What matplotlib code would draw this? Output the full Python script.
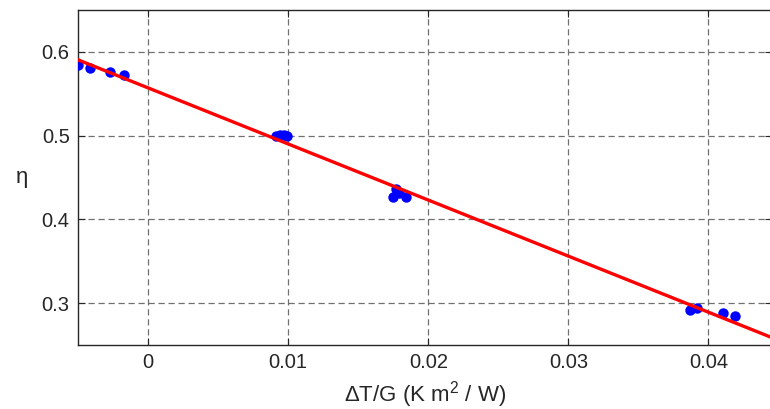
import matplotlib
matplotlib.use("Agg")
import matplotlib.pyplot as plt

# measured data (ΔT/G, η)
x_data = [-0.00500, -0.00414, -0.00271, -0.00171,
          0.00914, 0.00943, 0.00971, 0.00993,
          0.01750, 0.01770, 0.01790, 0.01840,
          0.03870, 0.03920, 0.04100, 0.04190]
y_data = [0.5845, 0.5810, 0.5760, 0.5726,
          0.4990, 0.5010, 0.5010, 0.4990,
          0.4270, 0.4360, 0.4320, 0.4270,
          0.2920, 0.2940, 0.2880, 0.2850]

# linear fit endpoints
fit_x = [-0.0050, 0.0445]
fit_y = [0.5905, 0.2590]

xticks = [0, 0.01, 0.02, 0.03, 0.04]
xtick_labels = ["0", "0.01", "0.02", "0.03", "0.04"]
yticks = [0.3, 0.4, 0.5, 0.6]
ytick_labels = ["0.3", "0.4", "0.5", "0.6"]

plt.rcParams['font.family'] = ['Liberation Sans', 'DejaVu Sans']
plt.rcParams['mathtext.fontset'] = 'custom'
plt.rcParams['mathtext.rm'] = 'Liberation Sans'
plt.rcParams['mathtext.it'] = 'Liberation Sans:italic'
plt.rcParams['mathtext.bf'] = 'Liberation Sans:bold'

fig = plt.figure(figsize=(7.7, 4.09), dpi=100)
ax = fig.add_axes([78/770, 1 - 345/409, 1 - 78/770 + 0.002, (345 - 10)/409])

ax.plot(x_data, y_data, 'o', color='#0000ff', markersize=7.5, markeredgewidth=0, zorder=3)
ax.plot(fit_x, fit_y, '-', color='#ff0000', linewidth=2.4, zorder=4)

ax.set_xlim(-0.005, 0.0445)
ax.set_ylim(0.25, 0.65)
ax.set_xticks(xticks)
ax.set_xticklabels(xtick_labels)
ax.set_yticks(yticks)
ax.set_yticklabels(ytick_labels)

ax.grid(True, color='#707070', linestyle=(0, (5, 3)), linewidth=0.9)
ax.set_axisbelow(True)
ax.tick_params(direction='in', length=5, width=0.8, top=True, right=True,
               labelsize=14.5, colors='#262626', pad=6)
for s in ax.spines.values():
    s.set_color('#262626')
    s.set_linewidth(1.0)

ax.set_xlabel(r"ΔT/G (K m$^{\mathrm{2}}$ / W)", fontsize=16, color='#262626', labelpad=5)
ax.set_ylabel("η", fontsize=16, rotation=0, color='#262626', labelpad=14, va='center')

fig.savefig("out.png", dpi=100)
